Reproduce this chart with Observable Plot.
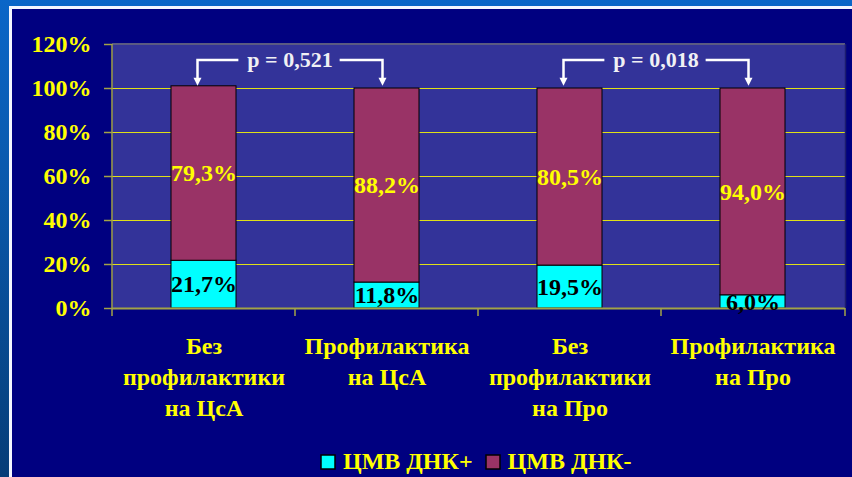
<!DOCTYPE html>
<html><head><meta charset="utf-8">
<script src="https://cdn.jsdelivr.net/npm/d3@7"></script>
<script src="https://cdn.jsdelivr.net/npm/@observablehq/plot@0.6"></script>
<style>
html,body{margin:0;padding:0;width:852px;height:477px;overflow:hidden}
body{position:relative;background:linear-gradient(180deg,#0a66c8 0%,#0a5aae 35%,#063d78 100%);font-family:"Liberation Serif","Times New Roman",serif}
#panel{position:absolute;left:9px;top:6px;right:0;bottom:0;border-left:3px solid #f4f6ff;border-top:3px solid #f4f6ff;background:#000080}
#chart{position:absolute;left:0;top:0;width:852px}
#legend{width:852px;height:37px;display:flex;justify-content:flex-start;align-items:center;padding-top:6px;padding-left:321px;box-sizing:border-box}
#legend > *{margin:0 !important;min-height:0 !important;font:bold 24px "Liberation Serif","Times New Roman",serif !important;color:#ffff00 !important}
#legend [class$="-swatch"]{margin-right:13px !important}
#legend [class$="-swatch"] > svg{margin-right:8px !important;overflow:visible}
#legend svg rect{stroke:#000;stroke-width:1.5px}
</style>
</head><body>
<div id="panel"></div>
<div id="chart"></div>
<script>
// ---- data ----
const categories = ["Без\nпрофилактики\nна ЦсА", "Профилактика\nна ЦсА", "Без\nпрофилактики\nна Про", "Профилактика\nна Про"];
const series = ["ЦМВ ДНК+", "ЦМВ ДНК-"];
const seriesColors = ["#00ffff", "#993366"];
const positive = [21.7, 11.8, 19.5, 6.0];
const negative = [79.3, 88.2, 80.5, 94.0];
const yTicks = [0, 20, 40, 60, 80, 100, 120];
const gridTicks = [20, 40, 60, 80, 100];
const pPairs = [[0, 1], [2, 3]];
const pLabels = ["p = 0,521", "p = 0,018"];

const rows = categories.flatMap((c, i) => [
  {category: c, series: series[0], value: positive[i]},
  {category: c, series: series[1], value: negative[i]}
]);
const fmt = v => v.toFixed(1).replace(".", ",") + "%";
const olive = "#a3a347";

// axis decorations: plot border, left axis line and category boundary ticks
const decor = (index, {x, y}) => {
  const g = d3.create("svg:g");
  const step = x.step(), bw = x.bandwidth();
  const [r0, r1] = x.range();
  const y0 = y(0), yTop = y(yTicks[yTicks.length - 1]);
  g.append("line").attr("x1", r0).attr("x2", r1).attr("y1", yTop).attr("y2", yTop)
    .attr("stroke", "#5a5a82").attr("stroke-width", 2);
  g.append("line").attr("x1", r1 + 0.5).attr("x2", r1 + 0.5).attr("y1", yTop).attr("y2", y0)
    .attr("stroke", "#1c1c70").attr("stroke-width", 1.5);
  g.append("line").attr("x1", r0).attr("x2", r0).attr("y1", yTop).attr("y2", y0 + 8)
    .attr("stroke", olive).attr("stroke-width", 1.5);
  const bounds = categories.map(c => x(c) + bw / 2 - step / 2).slice(1).concat([r1]);
  for (const b of bounds) {
    g.append("line").attr("x1", b).attr("x2", b).attr("y1", y0).attr("y2", y0 + 8)
      .attr("stroke", olive).attr("stroke-width", 1.5);
  }
  return g.node();
};

// p-value bracket annotations
const annot = (index, {x, y}) => {
  const g = d3.create("svg:g");
  const ctx = document.createElement("canvas").getContext("2d");
  ctx.font = "bold 22px 'Liberation Serif'";
  const cx = c => x(c) + x.bandwidth() / 2;
  pPairs.forEach(([a, b], k) => {
    const xa = cx(categories[a]) - 6, xb = cx(categories[b]) - 4;
    const ly = y(112.7), ty = y(101);
    const label = pLabels[k];
    const w = ctx.measureText(label).width;
    const mid = (xa + xb) / 2;
    g.append("path")
      .attr("d", `M${xa},${ty - 6}V${ly}H${mid - w / 2 - 9}M${mid + w / 2 + 7},${ly}H${xb}V${ty - 6}`)
      .attr("fill", "none").attr("stroke", "#fff").attr("stroke-width", 2.5);
    for (const xx of [xa, xb]) {
      g.append("path").attr("d", `M${xx - 4},${ty - 8}L${xx + 4},${ty - 8}L${xx},${ty}Z`).attr("fill", "#fff");
    }
    g.append("text").attr("x", mid).attr("y", ly).attr("dy", "0.3em")
      .attr("text-anchor", "middle").attr("fill", "#f0f0f4")
      .attr("font-size", 22).attr("font-weight", "bold").text(label);
  });
  return g.node();
};

const chart = Plot.plot({
  width: 852, height: 440,
  marginTop: 44, marginBottom: 132, marginLeft: 112, marginRight: 7,
  style: {background: "transparent", fontFamily: "'Liberation Serif','Times New Roman',serif", fontWeight: "bold", fontSize: "24px", overflow: "visible"},
  x: {domain: categories, paddingInner: 0.643, paddingOuter: 0.3215, label: null},
  y: {domain: [0, 120], label: null},
  color: {domain: series, range: seriesColors},
  marks: [
    Plot.frame({fill: "#333399", stroke: "none"}),
    Plot.ruleY(gridTicks, {stroke: "#ffff00", strokeOpacity: 0.85, strokeWidth: 1}),
    Plot.barY(rows, {x: "category", y: "value", fill: "series", stroke: "#000", strokeWidth: 1}),
    Plot.ruleY([0], {stroke: olive, strokeWidth: 2}),
    decor,
    Plot.axisY({ticks: yTicks, tickFormat: d => d + "%", tickSize: 8, tickPadding: 13, stroke: olive, strokeWidth: 1.5, fill: "#ffff00", fontSize: 24, label: null}),
    Plot.axisX({tickSize: 0, tickPadding: 23, lineHeight: 1.3, fill: "#ffff00", fontSize: 24, label: null}),
    Plot.text(rows, Plot.stackY({x: "category", y: "value", z: "series", text: d => d.series === series[1] ? fmt(d.value) : "", fill: "#ffff00", fontSize: 24, fontWeight: "bold"})),
    Plot.text(rows, Plot.stackY({x: "category", y: "value", z: "series", text: d => d.series === series[0] ? fmt(d.value) : "", fill: "#000", fontSize: 24, fontWeight: "bold"})),
    annot
  ]
});

const holder = document.getElementById("chart");
holder.appendChild(chart);
const legendBox = document.createElement("div");
legendBox.id = "legend";
legendBox.appendChild(Plot.legend({color: {domain: series, range: seriesColors}, swatchSize: 14}));
holder.appendChild(legendBox);
</script>
</body></html>
